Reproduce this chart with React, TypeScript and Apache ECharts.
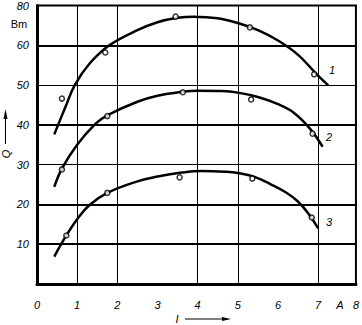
import React, { useEffect, useRef } from "react";
import * as echarts from "echarts";

// Fitted curves
const curve1: [number, number][] = [
  [0.43, 37.6], [0.7, 44.3], [0.94, 50], [1.3, 55.3], [1.8, 60], [2.5, 63.8], [3.0, 65.8],
  [3.5, 66.9], [3.9, 67.2], [4.5, 66.8], [5.0, 65.6], [5.5, 63.8], [6.0, 61.2], [6.5, 57.6],
  [6.9, 53.4], [7.25, 49.9],
];
const curve2: [number, number][] = [
  [0.43, 24.4], [0.62, 29.0], [1.0, 35.0], [1.46, 40.3], [1.75, 42.4], [2.5, 45.8], [3.0, 47.3],
  [3.6, 48.3], [4.0, 48.6], [4.6, 48.5], [5.0, 48.1], [5.5, 47.0], [6.0, 45.2], [6.4, 43.0],
  [6.8, 39.0], [7.11, 34.5],
];
const curve3: [number, number][] = [
  [0.43, 6.9], [0.73, 12.2], [1.0, 16.3], [1.3, 19.8], [1.75, 22.9], [2.5, 25.8], [3.0, 27.0],
  [3.6, 28.0], [4.1, 28.4], [4.7, 28.2], [5.0, 27.9], [5.4, 27.0], [5.83, 25.0], [6.2, 23.0],
  [6.49, 20.8], [6.75, 17.8], [7.0, 14.0],
];

// Measured points
const points1: [number, number][] = [[0.62, 46.6], [1.7, 58.2], [3.45, 67.2], [5.3, 64.5], [6.9, 52.7]];
const points2: [number, number][] = [[0.62, 28.8], [1.75, 42.2], [3.63, 48.2], [5.33, 46.4], [6.86, 37.8]];
const points3: [number, number][] = [[0.73, 12.2], [1.75, 22.9], [3.55, 26.8], [5.36, 26.5], [6.84, 16.7]];

// Tick labels
const xTickLabels = ["0", "1", "2", "3", "4", "5", "6", "7", "8"];
const yTickLabels = ["", "10", "20", "30", "40", "50", "60", "80"];

// Grid lines
const hLines = [10, 20, 30, 40, 50, 60];
const hLineWidths = [2, 2, 1, 2, 1, 2];
const vLines = [1, 2, 4, 5, 7];

const curveLabels = ["1", "2", "3"];

const FONT = "Liberation Sans";

export default function App() {
  const ref = useRef<HTMLDivElement>(null);

  useEffect(() => {
    document.body.style.margin = "0";
    const chart = echarts.init(ref.current!, null, { renderer: "svg" });

    const lineSeries = (data: [number, number][], withMarks: boolean) => ({
      type: "line",
      data,
      smooth: 0.4,
      symbol: "none",
      lineStyle: { color: "#000", width: 2.5 },
      z: 3,
      ...(withMarks
        ? {
            markLine: {
              silent: true,
              symbol: "none",
              label: { show: false },
              z: 1,
              data: [
                ...hLines.map((v, i) => ({
                  yAxis: v,
                  lineStyle: { color: "#000", width: hLineWidths[i], type: "solid" },
                })),
                ...vLines.map((v) => ({
                  xAxis: v,
                  lineStyle: { color: "#000", width: 1, type: "solid" },
                })),
              ],
            },
          }
        : {}),
    });

    const scatterSeries = (data: [number, number][]) => ({
      type: "scatter",
      data,
      symbol: "circle",
      symbolSize: 5,
      itemStyle: { color: "#fff", borderColor: "#000", borderWidth: 1.5 },
      z: 4,
    });

    const textStyle = { fill: "#000", font: `italic 11px "${FONT}"` };

    chart.setOption({
      animation: false,
      backgroundColor: "#fff",
      grid: {
        left: 37,
        top: 1,
        width: 322,
        height: 283,
        show: true,
        borderColor: "#000",
        borderWidth: 2,
        backgroundColor: "transparent",
      },
      xAxis: {
        type: "value",
        min: 0,
        max: 7.94,
        interval: 1,
        axisLine: { show: true, lineStyle: { color: "#000", width: 3 } },
        axisTick: { show: false },
        splitLine: { show: false },
        axisLabel: {
          margin: 15,
          color: "#000",
          fontSize: 11,
          fontStyle: "italic",
          fontFamily: FONT,
          showMaxLabel: true,
          showMinLabel: true,
          formatter: (v: number) => xTickLabels[Math.round(v)] ?? "",
        },
      },
      yAxis: {
        type: "value",
        min: 0,
        max: 70,
        interval: 10,
        axisLine: { show: true, lineStyle: { color: "#000", width: 3 } },
        axisTick: { show: false },
        splitLine: { show: false },
        axisLabel: {
          margin: 8,
          color: "#000",
          fontSize: 11,
          fontStyle: "italic",
          fontFamily: FONT,
          showMaxLabel: true,
          formatter: (v: number) => yTickLabels[Math.round(v / 10)] ?? "",
        },
      },
      series: [
        lineSeries(curve1, true),
        lineSeries(curve2, false),
        lineSeries(curve3, false),
        scatterSeries(points1),
        scatterSeries(points2),
        scatterSeries(points3),
      ],
      graphic: [
        { type: "text", x: 19, y: 24, style: { text: "Bm", fill: "#000", font: `11px "${FONT}"`, align: "center", verticalAlign: "middle" } },
        { type: "text", x: 340, y: 305, style: { ...textStyle, text: "A", align: "center", verticalAlign: "middle" } },
        { type: "text", x: 332, y: 70, style: { ...textStyle, text: curveLabels[0], align: "center", verticalAlign: "middle" } },
        { type: "text", x: 329, y: 137, style: { ...textStyle, text: curveLabels[1], align: "center", verticalAlign: "middle" } },
        { type: "text", x: 329, y: 222, style: { ...textStyle, text: curveLabels[2], align: "center", verticalAlign: "middle" } },
        // x axis name with arrow
        { type: "text", x: 177, y: 319, style: { ...textStyle, text: "I", align: "center", verticalAlign: "middle" } },
        { type: "line", shape: { x1: 185, y1: 319, x2: 224, y2: 319 }, style: { stroke: "#000", lineWidth: 1 } },
        { type: "polygon", shape: { points: [[222, 317], [231, 319], [222, 321]] }, style: { fill: "#000" } },
        // y axis name with arrow
        { type: "text", x: 6, y: 154, rotation: Math.PI / 2, style: { ...textStyle, text: "Q", align: "center", verticalAlign: "middle" } },
        { type: "line", shape: { x1: 5.5, y1: 144, x2: 5.5, y2: 112 }, style: { stroke: "#000", lineWidth: 1 } },
        { type: "polygon", shape: { points: [[3.5, 119], [5.5, 109], [7.5, 119]] }, style: { fill: "#000" } },
      ],
    });

    return () => chart.dispose();
  }, []);

  return <div ref={ref} style={{ width: 362, height: 325 }} />;
}
